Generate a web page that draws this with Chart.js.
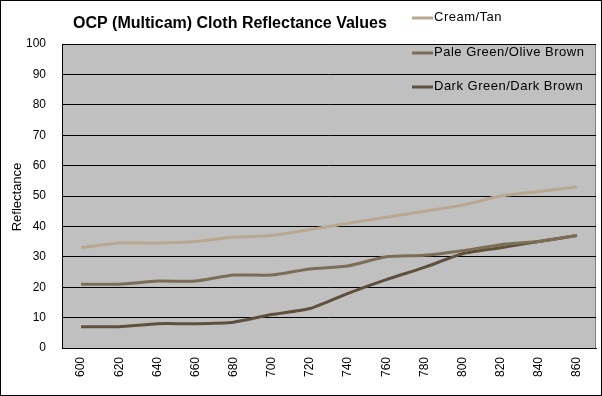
<!DOCTYPE html>
<html>
<head>
<meta charset="utf-8">
<script src="https://cdn.jsdelivr.net/npm/chart.js@4"></script>
<style>
  html, body { margin: 0; padding: 0; background: #fff; }
  #wrap { width: 602px; height: 396px; }
</style>
</head>
<body>
<div id="wrap"><canvas id="c" width="602" height="396"></canvas></div>
<script>
const wavelengths = ["600", "620", "640", "660", "680", "700", "720", "740", "760", "780", "800", "820", "840", "860"]
const creamTan = [33, 34.5, 34.5, 35, 36.5, 37, 39, 41, 43, 45, 47, 50, 51.5, 53]
const paleGreen = [21, 21, 22, 22, 24, 24, 26, 27, 30, 30.5, 32, 34, 35, 37]
const darkGreen = [7, 7, 8, 8, 8.5, 11, 13, 18, 22.5, 26.5, 31, 33, 35, 37]

const seriesLabels = ["Cream/Tan", "Pale Green/Olive Brown", "Dark Green/Dark Brown"]
const seriesColors = ["#b9a890", "#7c6d55", "#5f503d"]

const FONT = "'Liberation Sans', Arial, sans-serif"

// plot background, frame, title, axis title and legend the way the spreadsheet draws them
const decor = {
  id: "decor",
  beforeDraw(chart) {
    const { ctx, chartArea: a } = chart
    ctx.save()
    ctx.fillStyle = "#fff"
    ctx.fillRect(0, 0, chart.width, chart.height)
    ctx.fillStyle = "#c0c0c0"
    ctx.fillRect(a.left, a.top, a.right - a.left, a.bottom - a.top)
    ctx.strokeStyle = "#808080"
    ctx.lineWidth = 1
    ctx.strokeRect(a.left + 0.5, a.top + 0.5, a.right - a.left - 1, a.bottom - a.top)
    ctx.restore()
  },
  afterDraw(chart) {
    const { ctx } = chart
    ctx.save()
    ctx.strokeStyle = "#000"
    ctx.lineWidth = 1
    ctx.strokeRect(0.5, 0.5, chart.width - 1, chart.height - 1)

    ctx.fillStyle = "#000"
    ctx.font = "bold 16px " + FONT
    ctx.textBaseline = "middle"
    ctx.textAlign = "left"
    ctx.fillText("OCP (Multicam) Cloth Reflectance Values", 73, 24)

    // y axis title
    ctx.save()
    ctx.translate(17, 197)
    ctx.rotate(-Math.PI / 2)
    ctx.textAlign = "center"
    ctx.font = "13px " + FONT
    ctx.fillText("Reflectance", 0, 0)
    ctx.restore()

    ctx.font = "13px " + FONT
    ctx.letterSpacing = "0.5px"
    const rows = [17, 52, 86]
    chart.data.datasets.forEach((ds, i) => {
      ctx.strokeStyle = ds.borderColor
      ctx.lineWidth = 3
      ctx.beginPath()
      ctx.moveTo(412, rows[i] + 1)
      ctx.lineTo(433, rows[i] + 1)
      ctx.stroke()
      ctx.fillStyle = "#000"
      ctx.fillText(ds.label, 434, rows[i])
    })
    ctx.restore()
  }
}

new Chart(document.getElementById("c"), {
  type: "line",
  data: {
    labels: wavelengths,
    datasets: [
      { label: seriesLabels[0], data: creamTan, borderColor: seriesColors[0] },
      { label: seriesLabels[1], data: paleGreen, borderColor: seriesColors[1] },
      { label: seriesLabels[2], data: darkGreen, borderColor: seriesColors[2] }
    ].map(d => ({ ...d, borderWidth: 3, pointRadius: 0, tension: 0.2, fill: false }))
  },
  options: {
    responsive: false,
    animation: false,
    layout: { padding: { top: 44, right: 6, left: 0, bottom: 0 } },
    plugins: {
      legend: { display: false },
      title: { display: false },
      tooltip: { enabled: false }
    },
    scales: {
      x: {
        offset: true,
        grid: { display: false, drawTicks: false },
        border: { color: "#000", width: 1 },
        ticks: {
          color: "#000",
          minRotation: 90,
          maxRotation: 90,
          padding: 9,
          font: { family: FONT, size: 12 }
        },
        afterFit(scale) { scale.height = 48 }
      },
      y: {
        min: 0,
        max: 100,
        grid: { color: "#000", lineWidth: 1, drawTicks: false },
        border: { color: "#000", width: 1 },
        ticks: {
          stepSize: 10,
          color: "#000",
          padding: 16,
          font: { family: FONT, size: 12 }
        },
        afterFit(scale) { scale.width = 62 }
      }
    }
  },
  plugins: [decor]
})
</script>
</body>
</html>
